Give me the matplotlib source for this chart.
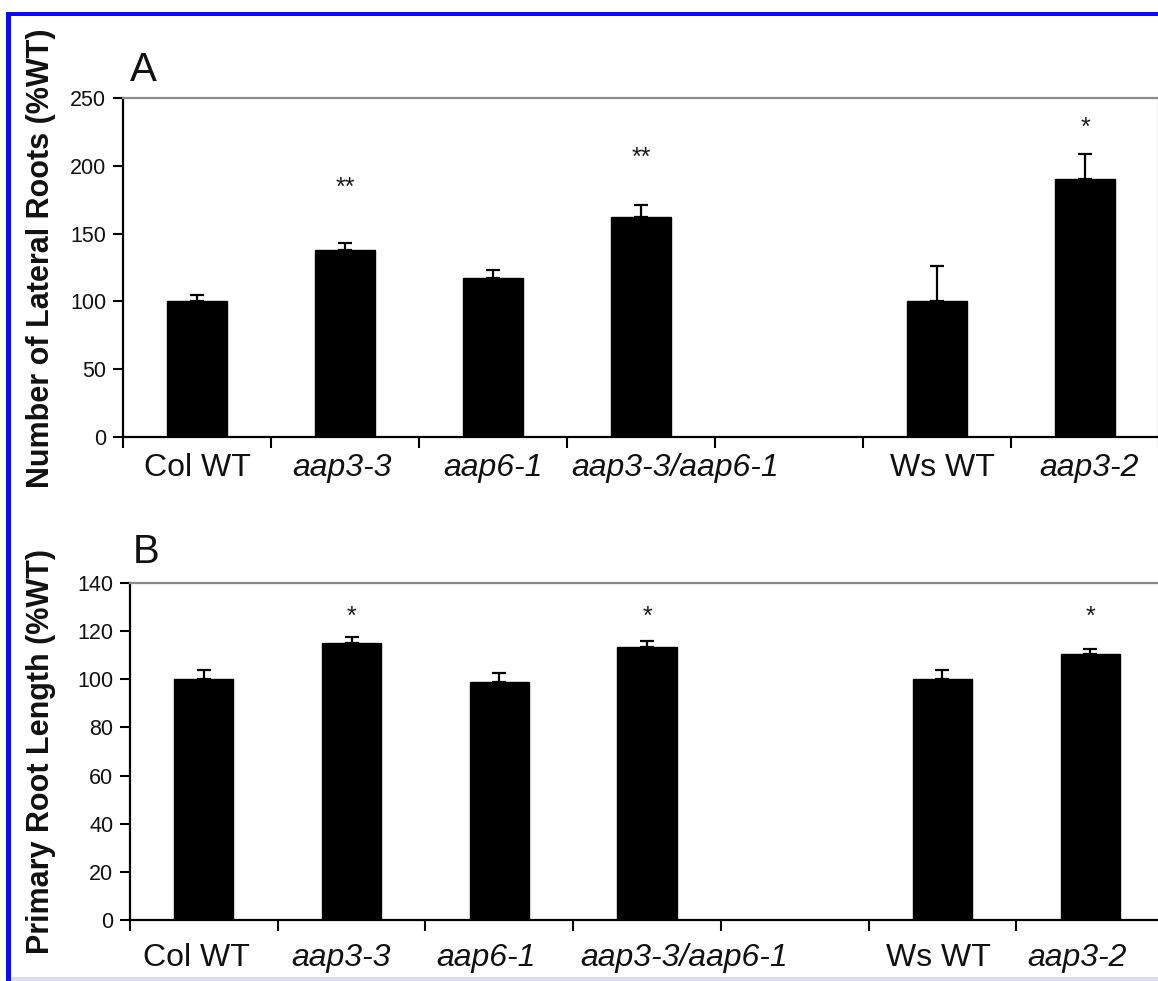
import numpy as np
import matplotlib
matplotlib.use("Agg")
import matplotlib.pyplot as plt
from matplotlib.patches import Rectangle

plt.rcParams['font.family'] = ['Liberation Sans', 'DejaVu Sans']

# ---------------- data ----------------
categories = ['Col WT', 'aap3-3', 'aap6-1', 'aap3-3/aap6-1', '', 'Ws WT', 'aap3-2']
italic = [False, True, True, True, False, False, True]

lateral_roots = [100, 138, 117, 162, np.nan, 100, 190]
lateral_err = [5, 5, 6, 9, np.nan, 26, 19]
lateral_sig = ['', '**', '', '**', '', '', '*']
lateral_sig_y = [np.nan, 184, np.nan, 206, np.nan, np.nan, 228]

primary_len = [100, 115, 99, 113.5, np.nan, 100, 110.5]
primary_err = [4, 2.5, 3.5, 2.5, np.nan, 4, 2]
primary_sig = ['', '*', '', '*', '', '', '*']
primary_sig_y = [np.nan, 126, np.nan, 126, np.nan, np.nan, 126]

# hand-placed label nudges in the original (pixels, style only)
label_dx_A = [0, -3, 0, 34, 0, 5, 4]
label_dx_B = [-7, -11, -13, 37, 0, -4, -13]

W, H = 1158, 981
fig = plt.figure(figsize=(W / 100, H / 100), dpi=100)
fig.patch.set_facecolor('white')
PT = 72 / 100  # points per pixel

def px(x0, y_top, x1, y_bot):
    return [x0 / W, 1 - y_bot / H, (x1 - x0) / W, (y_bot - y_top) / H]

axA = fig.add_axes(px(123, 98, 1159, 437))
axB = fig.add_axes(px(130, 583, 1164, 920))

def draw(ax, vals, errs, sig, sig_y, ylim, ystep, ylabel, label_y, dxs, label_top):
    x = np.arange(len(categories))
    ax.bar(x, vals, width=0.4, color='black', edgecolor='black', zorder=2)
    ax.errorbar(x, vals, yerr=[np.zeros(len(vals)), errs], fmt='none',
                ecolor='black', elinewidth=1.6, capsize=5, capthick=1.6, zorder=3)
    for xi, s, sy in zip(x, sig, sig_y):
        if s:
            ax.text(xi, sy, s, ha='center', va='center', fontsize=18, color='#1a1a1a')
    ax.set_xlim(-0.5, len(categories) - 0.5)
    ax.set_ylim(*ylim)
    ax.set_yticks(np.arange(ylim[0], ylim[1] + 1, ystep))
    ax.tick_params(axis='y', direction='out', length=7, width=1.5, labelsize=15.5, pad=5,
                   labelcolor='#111111')
    ax.set_xticks(np.arange(-0.5, len(categories), 1.0))
    ax.set_xticklabels([])
    ax.tick_params(axis='x', which='major', direction='out', length=8, width=1.5)
    for xi, lab, it, dx in zip(x, categories, italic, dxs):
        if not lab:
            continue
        ax.annotate(lab, xy=(xi, 0), xycoords=('data', 'axes fraction'),
                    xytext=(dx * PT, -label_top * PT), textcoords='offset points',
                    ha='center', va='top', fontsize=23, color='#111111',
                    style='italic' if it else 'normal', annotation_clip=False)
    for side in ['left', 'bottom']:
        ax.spines[side].set_linewidth(1.6)
        ax.spines[side].set_color('black')
    for side in ['top', 'right']:
        ax.spines[side].set_linewidth(1.6)
        ax.spines[side].set_color('#8a8a8a')
    fig.text(41 / W, label_y, ylabel, rotation=90, ha='center', va='center',
             fontsize=22, fontweight='bold', color='#111111')

draw(axA, lateral_roots, lateral_err, lateral_sig, lateral_sig_y, (0, 250), 50,
     'Number of Lateral Roots (%WT)', 1 - 258 / H, label_dx_A, 16)
draw(axB, primary_len, primary_err, primary_sig, primary_sig_y, (0, 140), 20,
     'Primary Root Length (%WT)', 1 - 752 / H, label_dx_B, 23)

fig.text(130 / W, 1 - 81 / H, 'A', fontsize=29, va='baseline', ha='left', color='#111111')
fig.text(133 / W, 1 - 563 / H, 'B', fontsize=29, va='baseline', ha='left', color='#111111')

# frame of the figure image
fig.add_artist(Rectangle((6 / W, 0), 5 / W, 1 - 12 / H, transform=fig.transFigure,
                         facecolor='#0a0aff', edgecolor='none', zorder=10))
fig.add_artist(Rectangle((6 / W, 1 - 16 / H), 1 - 6 / W, 4 / H, transform=fig.transFigure,
                         facecolor='#0a0aff', edgecolor='none', zorder=10))
fig.add_artist(Rectangle((11 / W, 0), 1, 4 / H, transform=fig.transFigure,
                         facecolor='#dcdcfa', edgecolor='none', zorder=10))

fig.savefig('out.png', dpi=100, facecolor='white')
